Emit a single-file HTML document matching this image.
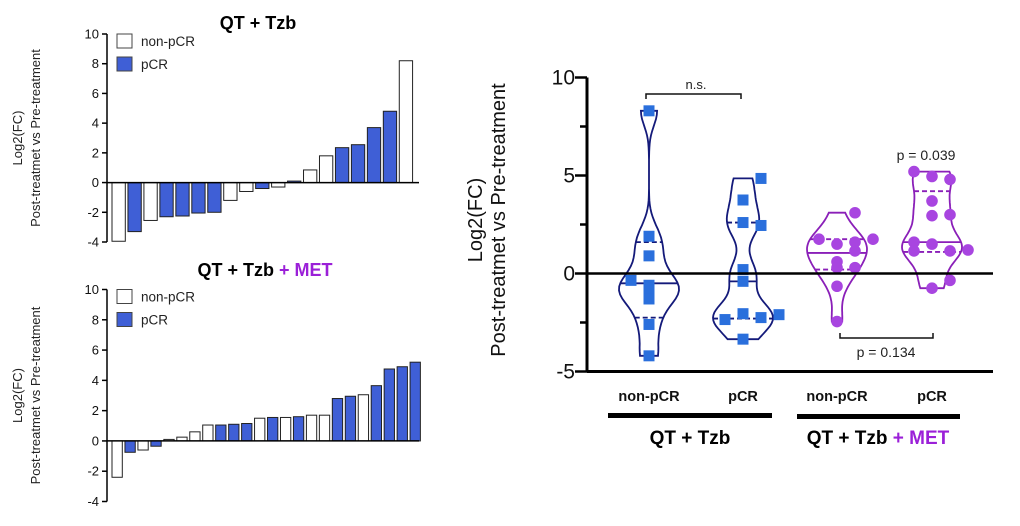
<!DOCTYPE html>
<html><head><meta charset="utf-8"><style>
body{margin:0;background:#fff;}
svg{display:block;font-family:"Liberation Sans",Arial,sans-serif;}
</style></head><body>
<svg id="fig" width="1020" height="526" viewBox="0 0 1020 526"></svg>
<script>
// ---- data ----
const topValues = [-3.95,-3.3,-2.55,-2.3,-2.25,-2.05,-2.0,-1.2,-0.6,-0.4,-0.3,0.1,0.85,1.8,2.35,2.55,3.7,4.8,8.2];
const topPCR    = [0,1,0,1,1,1,1,0,0,1,0,1,0,0,1,1,1,1,0];
const botValues = [-2.4,-0.75,-0.6,-0.35,0.1,0.25,0.6,1.05,1.05,1.1,1.15,1.5,1.55,1.55,1.6,1.7,1.7,2.8,2.95,3.05,3.65,4.75,4.9,5.2];
const botPCR    = [0,1,0,1,0,0,0,0,1,1,1,0,1,0,1,0,0,1,1,0,1,1,1,1];
const leftTicks = [10,8,6,4,2,0,-2,-4];
const rightTicks = [10,5,0,-5];
const groupNames = ["non-pCR","pCR","non-pCR","pCR"];
const g1 = [8.3,1.9,0.9,-0.35,-0.6,-1.0,-1.3,-2.6,-4.2];
const g1off = [0,0,0,-1,0,0,0,0,0];
const g2 = [4.85,3.75,2.6,2.45,0.2,-0.4,-2.05,-2.25,-2.35,-2.1,-3.35];
const g2off = [1,0,0,1,0,0,0,1,-1,2,0];
const g3 = [3.1,1.75,1.5,1.6,1.75,1.15,0.6,0.3,0.3,-0.65,-2.45];
const g3off = [1,-1,0,1,2,1,0,0,1,0,0];
const g4 = [5.2,4.95,4.8,3.7,2.95,3.0,1.6,1.5,1.15,1.15,1.2,-0.35,-0.75];
const g4off = [-1,0,1,0,0,1,-1,0,-1,1,2,1,0];
const medians = [-0.5,-0.4,1.05,1.6];
const q1s = [-2.25,-2.3,0.2,1.1];
const q3s = [1.6,2.6,1.75,4.2];

const NS="http://www.w3.org/2000/svg";
const svg=document.getElementById('fig');
function el(tag,attrs,parent){const e=document.createElementNS(NS,tag);for(const k in attrs)e.setAttribute(k,attrs[k]);(parent||svg).appendChild(e);return e;}
function txt(s,attrs,parent){const e=el('text',attrs,parent);e.textContent=s;return e;}

// ---- left bar charts ----
function barChart(values,pcr,yTop,yBot,x0,pitch,bw,name,title,titleX,titleY,met){
  const g=el('g',{});
  
  
  const ymax=10,ymin=-4;
  const y=v=>yTop+(ymax-v)/(ymax-ymin)*(yBot-yTop);
  const axX=107;
  el('line',{x1:axX,y1:yTop,x2:axX,y2:yBot,stroke:'#000','stroke-width':1.5},g);
  leftTicks.forEach(t=>{
    el('line',{x1:axX-5,y1:y(t),x2:axX,y2:y(t),stroke:'#000','stroke-width':1.5},g);
    const l=txt(String(t),{x:axX-8,y:y(t)+4.5,'font-size':13,'text-anchor':'end',fill:'#111'},g);
    
    
  });
  values.forEach((v,i)=>{
    const x=x0+i*pitch;
    const r=el('rect',{x:x,y:Math.min(y(v),y(0)),width:bw,height:Math.max(1,Math.abs(y(v)-y(0))),fill:pcr[i]?'#3f5fd6':'#fff',stroke:'#222','stroke-width':1},g);
    
    
  });
  el('line',{x1:axX,y1:y(0),x2:419,y2:y(0),stroke:'#000','stroke-width':1.5},g);
  const lx=117,ly=yTop;
  const b1=el('rect',{x:lx,y:ly,width:15,height:14,fill:'#fff',stroke:'#444','stroke-width':1},g);
  
  txt('non-pCR',{x:lx+24,y:ly+12,'font-size':13.5,fill:'#222'},g);
  const b2=el('rect',{x:lx,y:ly+23,width:15,height:14,fill:'#3f5fd6',stroke:'#444','stroke-width':1},g);
  
  txt('pCR',{x:lx+24,y:ly+35,'font-size':13.5,fill:'#222'},g);
  const t=txt('',{x:titleX,y:titleY,'font-size':18,'font-weight':'bold','text-anchor':'middle'},g);
  
  const s1=el('tspan',{},t);s1.textContent='QT + Tzb';
  if(met){const s2=el('tspan',{fill:'#9b20d8'},t);s2.textContent=' + MET';}
  const cy=(yTop+yBot)/2;
  const yt=el('g',{transform:`translate(0,${cy}) rotate(-90)`},g);
  
  txt('Log2(FC)',{x:0,y:22,'font-size':13,'text-anchor':'middle',fill:'#222'},yt);
  txt('Post-treatmet vs Pre-treatment',{x:0,y:40,'font-size':13,'text-anchor':'middle',fill:'#222'},yt);
}
barChart(topValues,topPCR,34,242,112,15.96,13.3,'top-bar-chart','',258,29,false);
barChart(botValues,botPCR,289.5,501.5,112,12.96,10.3,'bottom-bar-chart','',265,276,true);

// ---- right violin chart ----
const R=el('g',{});


const ry=v=>273.5-v*19.6;
const rAx=587;
const centers=[649,743,837,932];
el('line',{x1:rAx,y1:ry(10),x2:rAx,y2:ry(-5),stroke:'#000','stroke-width':3},R);
el('line',{x1:rAx,y1:ry(-5),x2:993,y2:ry(-5),stroke:'#000','stroke-width':3},R);
[10,7.5,5,2.5,0,-2.5,-5].forEach(t=>{
  el('line',{x1:rAx-(t%5===0?12:7),y1:ry(t),x2:rAx,y2:ry(t),stroke:'#000','stroke-width':2.5},R);
});
rightTicks.forEach(t=>{
  const l=txt(String(t),{x:575,y:ry(t)+7,'font-size':21,'text-anchor':'end',fill:'#111'},R);
  
});
const ryt=el('g',{transform:'translate(0,220) rotate(-90)'},R);

txt('Log2(FC)',{x:0,y:482,'font-size':20,'text-anchor':'middle',fill:'#111'},ryt);
txt('Post-treatmet vs Pre-treatment',{x:0,y:505,'font-size':20,'text-anchor':'middle',fill:'#111'},ryt);

const groups=[g1,g2,g3,g4], offs=[g1off,g2off,g3off,g4off];
function kdeHalf(data,v,h){let s=0;data.forEach(d=>{s+=Math.exp(-0.5*((v-d)/h)**2);});return s;}
groups.forEach((data,gi)=>{
  const cx=centers[gi];
  const met=gi>=2;
  const lineC=met?'#8a1fb8':'#141a7a', ptC=met?'#a845e0':'#2a6fdc';
  const mn=Math.min(...data), mx=Math.max(...data);
  const h=0.75, N=60, pts=[];
  let dmax=0;
  for(let i=0;i<=N;i++){const v=mn+(mx-mn)*i/N;const d=kdeHalf(data,v,h);pts.push([v,d]);dmax=Math.max(dmax,d);}
  const W=30;
  const half=v=>W*kdeHalf(data,v,h)/dmax;
  let p='';
  pts.forEach(([v,d],i)=>{p+=(i?'L':'M')+(cx+W*d/dmax).toFixed(1)+','+ry(v).toFixed(1);});
  for(let i=pts.length-1;i>=0;i--){const [v,d]=pts[i];p+='L'+(cx-W*d/dmax).toFixed(1)+','+ry(v).toFixed(1);}
  p+='Z';
  const vp=el('path',{d:p,fill:'none',stroke:lineC,'stroke-width':1.8},R);
  
  const hm=half(medians[gi]);
  el('line',{x1:cx-hm,y1:ry(medians[gi]),x2:cx+hm,y2:ry(medians[gi]),stroke:lineC,'stroke-width':1.8},R);
  [q1s[gi],q3s[gi]].forEach(q=>{const hq=half(q);
    el('line',{x1:cx-hq,y1:ry(q),x2:cx+hq,y2:ry(q),stroke:lineC,'stroke-width':1.8,'stroke-dasharray':'5,3'},R);});
  data.forEach((v,i)=>{
    const x=cx+offs[gi][i]*18;
    let m;
    if(met){m=el('circle',{cx:x,cy:ry(v),r:5.8,fill:ptC},R);}
    else{m=el('rect',{x:x-5.5,y:ry(v)-5.5,width:11,height:11,fill:ptC},R);}
    
    
  });
  const cl=txt(groupNames[gi],{x:cx,y:401,'font-size':14.5,'font-weight':'bold','text-anchor':'middle',fill:'#111'},R);
  
});
el('line',{x1:rAx,y1:ry(0),x2:993,y2:ry(0),stroke:'#000','stroke-width':2.5},R);
el('path',{d:'M646,99 V94 H741 V99',fill:'none',stroke:'#111','stroke-width':1.5},R);
txt('n.s.',{x:696,y:89,'font-size':13,'text-anchor':'middle',fill:'#222'},R);
txt('p = 0.039',{x:926,y:160,'font-size':14,'text-anchor':'middle',fill:'#222'},R);
el('path',{d:'M840,333 V338 H933 V333',fill:'none',stroke:'#111','stroke-width':1.5},R);
txt('p = 0.134',{x:886,y:357,'font-size':14,'text-anchor':'middle',fill:'#222'},R);
el('rect',{x:608,y:413,width:164,height:5,fill:'#000'},R);
el('rect',{x:797,y:414,width:163,height:5,fill:'#000'},R);
const gl1=txt('QT + Tzb',{x:690,y:444,'font-size':19,'font-weight':'bold','text-anchor':'middle',fill:'#000'},R);

const gl2=txt('',{x:878,y:444,'font-size':19,'font-weight':'bold','text-anchor':'middle',fill:'#000'},R);

const a=el('tspan',{},gl2);a.textContent='QT + Tzb';
const b=el('tspan',{fill:'#9b20d8'},gl2);b.textContent=' + MET';
</script>
</body></html>
